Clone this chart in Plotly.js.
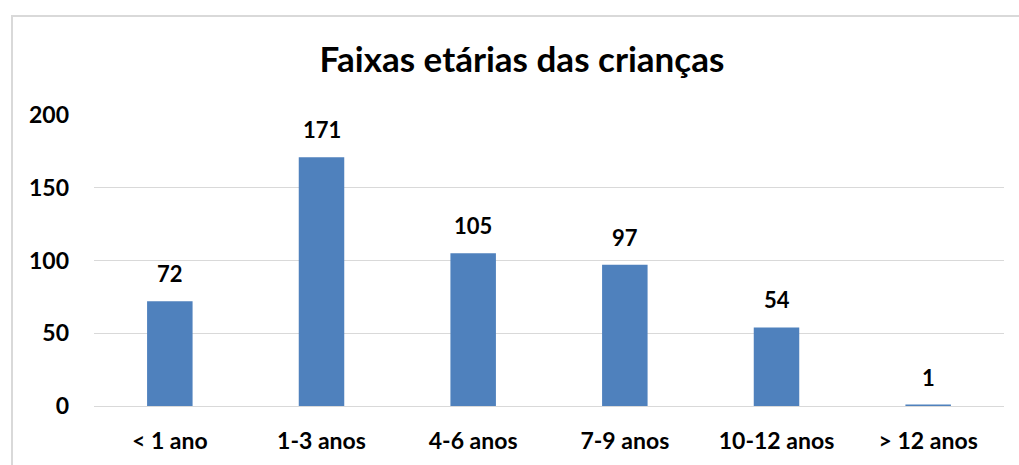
<!DOCTYPE html>
<html><head><meta charset="utf-8">
<script src="https://cdn.plot.ly/plotly-3.0.1.min.js"></script>
<style>
html,body{margin:0;padding:0;background:#fff;}
#frame{position:absolute;left:11px;top:15px;width:1100px;height:520px;border:2px solid #d9d9d9;box-sizing:border-box;}
#chart{position:absolute;left:0;top:0;width:1019px;height:465px;}
</style></head>
<body>
<div id="frame"></div>
<div id="chart"></div>
<script>
const categories = ["< 1 ano","1-3 anos","4-6 anos","7-9 anos","10-12 anos","> 12 anos"];
const values = [72,171,105,97,54,1];
const yTicks = [0,50,100,150,200];
const titleText = "Faixas etárias das crianças";

const font = "Lato, 'Open Sans', sans-serif";
Plotly.newPlot('chart', [{
  type:'bar', x:categories, y:values,
  marker:{color:'#4f81bd'},
  hoverinfo:'none'
}], {
  width:1019, height:465,
  paper_bgcolor:'rgba(0,0,0,0)', plot_bgcolor:'rgba(0,0,0,0)',
  margin:{l:94, r:15, t:115, b:59},
  bargap:0.7,
  showlegend:false,
  annotations: categories.map((c,i)=>({x:c, y:values[i], xref:'x', yref:'y', text:String(values[i]),
     showarrow:false, yanchor:'bottom', yshift:12,
     font:{family:font, size:22, color:'#000', weight:'bold'}})),
  title:{text:titleText, x:522/1019, xanchor:'center', xref:'container', y:1-60/465, yanchor:'middle',
         font:{family:font, size:35, color:'#000', weight:'bold'}},
  xaxis:{tickfont:{family:font, size:23, color:'#000', weight:'bold'}, showgrid:false,
         showline:true, linecolor:'#d9d9d9', linewidth:1, ticks:'', ticklabelstandoff:14},
  yaxis:{range:[0,200], tickvals:yTicks, ticktext:yTicks.map(String),
         tickfont:{family:font, size:23, color:'#000', weight:'bold'},
         gridcolor:'#d9d9d9', gridwidth:1, zeroline:false, showline:false, ticks:'', ticklabelstandoff:24}
}, {staticPlot:true});
</script>
</body></html>
